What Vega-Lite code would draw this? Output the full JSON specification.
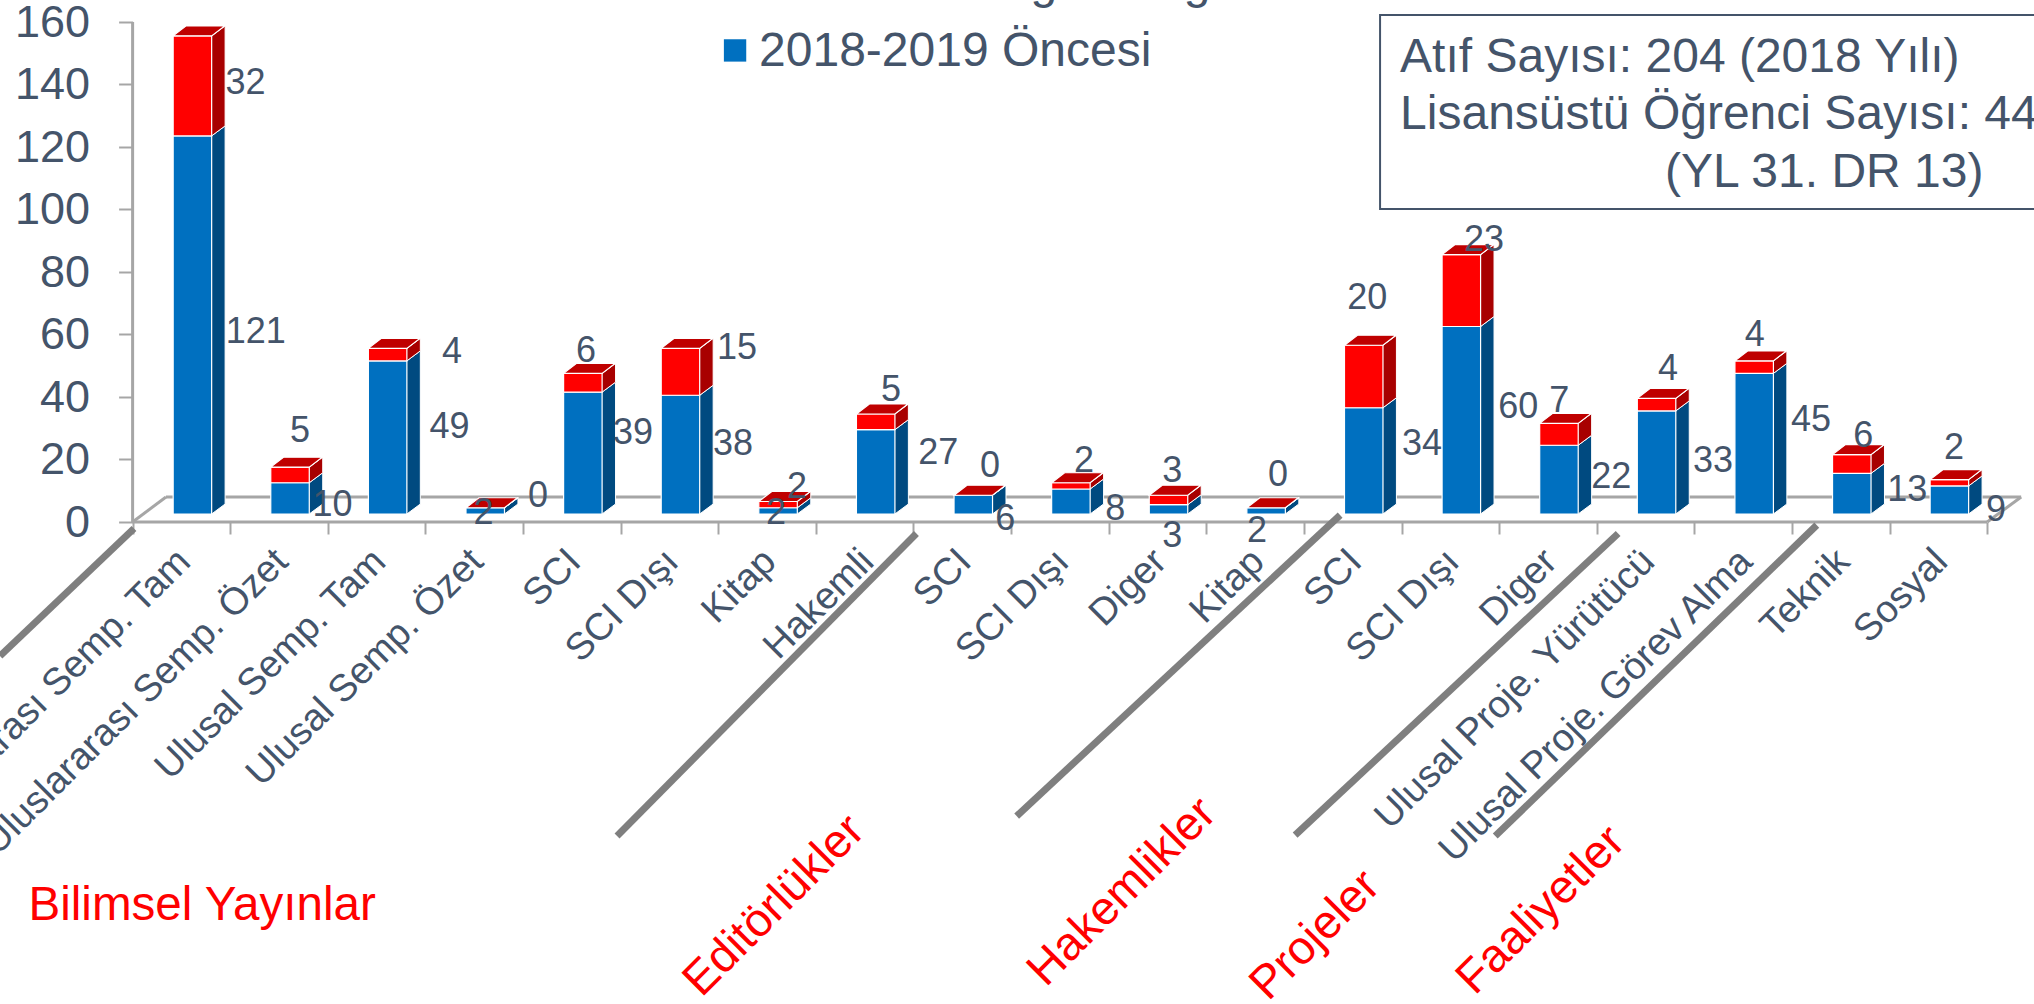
{
"$schema":"https://vega.github.io/schema/vega-lite/v6.json",
"width":2034,"height":1004,"padding":0,"autosize":{"type":"none"},"background":"white",
"config":{"view":{"stroke":null},"font":"Liberation Sans","text":{"font":"Liberation Sans"}},
"datasets":{
"corners":[{"key":"hi","edge":[0,1],"seq":[0,1]},{"key":"lo","edge":[1,0],"seq":[2,3]}],
"floor":[{"p":0.342,"v":8,"p2":19.348,"v2":8},{"p":0,"v":0,"p2":0.342,"v2":8},{"p":19,"v":0,"p2":19.348,"v2":8},{"p":0,"v":0,"p2":19,"v2":0},{"p":0,"v":0,"p2":0,"v2":160}],
"separators":[{"p":0.014,"v":-2.1,"p2":-1.359,"v2":-42.9},{"p":8.03,"v":-3.7,"p2":4.963,"v2":-100.5},{"p":12.371,"v":2.2,"p2":9.057,"v2":-94.1},{"p":15.219,"v":-3.7,"p2":11.91,"v2":-100.2},{"p":17.254,"v":-1,"p2":13.96,"v2":-100.5}],
"labels":[{"p":1.157,"v":140.4,"t":"32"},{"p":1.262,"v":60.8,"t":"121"},{"p":1.715,"v":29.1,"t":"5"},{"p":2.049,"v":5.4,"t":"10"},{"p":3.273,"v":54.4,"t":"4"},{"p":3.247,"v":30.4,"t":"49"},{"p":3.595,"v":3.0,"t":"2"},{"p":4.154,"v":8.2,"t":"0"},{"p":4.645,"v":54.7,"t":"6"},{"p":5.127,"v":28.5,"t":"39"},{"p":6.193,"v":55.8,"t":"15"},{"p":6.152,"v":25.1,"t":"38"},{"p":6.807,"v":11.2,"t":"2"},{"p":6.592,"v":2.8,"t":"2"},{"p":7.771,"v":42.2,"t":"5"},{"p":8.253,"v":22.2,"t":"27"},{"p":8.785,"v":18.0,"t":"0"},{"p":8.94,"v":1.1,"t":"6"},{"p":9.748,"v":19.4,"t":"2"},{"p":10.066,"v":4.2,"t":"8"},{"p":10.65,"v":16.3,"t":"3"},{"p":10.65,"v":-4.6,"t":"3"},{"p":11.735,"v":14.9,"t":"0"},{"p":11.52,"v":-2.9,"t":"2"},{"p":12.648,"v":71.8,"t":"20"},{"p":13.21,"v":25.0,"t":"34"},{"p":13.846,"v":90.2,"t":"23"},{"p":14.195,"v":36.8,"t":"60"},{"p":14.615,"v":38.7,"t":"7"},{"p":15.148,"v":14.4,"t":"22"},{"p":15.73,"v":49.0,"t":"4"},{"p":16.19,"v":19.4,"t":"33"},{"p":16.62,"v":60.0,"t":"4"},{"p":17.196,"v":32.8,"t":"45"},{"p":17.73,"v":27.4,"t":"6"},{"p":18.18,"v":10.1,"t":"13"},{"p":18.66,"v":23.8,"t":"2"},{"p":19.09,"v":3.8,"t":"9"}],
"notes":[{"p":12.985,"v":144.1,"t":"Atıf Sayısı: 204 (2018 Yılı)"},{"p":12.985,"v":125.8,"t":"Lisansüstü Öğrenci Sayısı: 44"},{"p":15.7,"v":107.2,"t":"(YL 31. DR 13)"},{"p":6.418,"v":146.0,"t":"2018-2019 Öncesi"},{"p":9.2,"v":167.6,"t":"g"},{"p":10.77,"v":167.6,"t":"g"}],
"groupsFlat":[{"p":-1.067,"v":-127.3,"t":"Bilimsel Yayınlar"}],
"groupsTilted":[{"p":6.573,"v":-122.8,"t":"Editörlükler"},{"p":10.137,"v":-118.4,"t":"Hakemlikler"},{"p":12.115,"v":-132.2,"t":"Projeler"},{"p":14.43,"v":-124.2,"t":"Faaliyetler"}],
"box":[{"p":12.78,"v":162.24,"p2":20.5,"v2":100.16}],
"legendKey":[{"p":6.172,"v":150.9}]
},
"data":{"values":[
{"pos":0,"cat":"Uluslararası Semp.  Tam","series":"Once","n":121},{"pos":0,"cat":"Uluslararası Semp.  Tam","series":"Sonra","n":32},
{"pos":1,"cat":"Uluslararası Semp.  Özet","series":"Once","n":10},{"pos":1,"cat":"Uluslararası Semp.  Özet","series":"Sonra","n":5},
{"pos":2,"cat":"Ulusal Semp.  Tam","series":"Once","n":49},{"pos":2,"cat":"Ulusal Semp.  Tam","series":"Sonra","n":4},
{"pos":3,"cat":"Ulusal Semp.  Özet","series":"Once","n":2},{"pos":3,"cat":"Ulusal Semp.  Özet","series":"Sonra","n":0},
{"pos":4,"cat":"SCI","series":"Once","n":39},{"pos":4,"cat":"SCI","series":"Sonra","n":6},
{"pos":5,"cat":"SCI Dışı","series":"Once","n":38},{"pos":5,"cat":"SCI Dışı","series":"Sonra","n":15},
{"pos":6,"cat":"Kitap","series":"Once","n":2},{"pos":6,"cat":"Kitap","series":"Sonra","n":2},
{"pos":7,"cat":"Hakemli","series":"Once","n":27},{"pos":7,"cat":"Hakemli","series":"Sonra","n":5},
{"pos":8,"cat":"SCI","series":"Once","n":6},{"pos":8,"cat":"SCI","series":"Sonra","n":0},
{"pos":9,"cat":"SCI Dışı","series":"Once","n":8},{"pos":9,"cat":"SCI Dışı","series":"Sonra","n":2},
{"pos":10,"cat":"Diger","series":"Once","n":3},{"pos":10,"cat":"Diger","series":"Sonra","n":3},
{"pos":11,"cat":"Kitap","series":"Once","n":2},{"pos":11,"cat":"Kitap","series":"Sonra","n":0},
{"pos":12,"cat":"SCI","series":"Once","n":34},{"pos":12,"cat":"SCI","series":"Sonra","n":20},
{"pos":13,"cat":"SCI Dışı","series":"Once","n":60},{"pos":13,"cat":"SCI Dışı","series":"Sonra","n":23},
{"pos":14,"cat":"Diger","series":"Once","n":22},{"pos":14,"cat":"Diger","series":"Sonra","n":7},
{"pos":15,"cat":"Ulusal Proje.  Yürütücü","series":"Once","n":33},{"pos":15,"cat":"Ulusal Proje.  Yürütücü","series":"Sonra","n":4},
{"pos":16,"cat":"Ulusal Proje.  Görev Alma","series":"Once","n":45},{"pos":16,"cat":"Ulusal Proje.  Görev Alma","series":"Sonra","n":4},
{"pos":17,"cat":"Teknik","series":"Once","n":13},{"pos":17,"cat":"Teknik","series":"Sonra","n":6},
{"pos":18,"cat":"Sosyal","series":"Once","n":9},{"pos":18,"cat":"Sosyal","series":"Sonra","n":2}
]},
"transform":[{"stack":"n","groupby":["pos"],"as":["lo","hi"]}],
"layer":[
{"data":{"name":"floor"},"mark":{"type":"rule","color":"#A6A6A6","strokeWidth":3},
 "encoding":{
  "x":{"field":"p","type":"quantitative","scale":{"domain":[-1.3586,19.4795],"padding":0},"axis":{"orient":"bottom","offset":-482,"values":[0,1,2,3,4,5,6,7,8,9,10,11,12,13,14,15,16,17,18,19],"labels":false,"domain":false,"grid":false,"title":null,"tickSize":12,"tickWidth":2,"tickColor":"#A6A6A6"}},
  "x2":{"field":"p2"},
  "y":{"field":"v","type":"quantitative","scale":{"domain":[-154.24,167.04]},"axis":{"orient":"left","offset":-132.6,"values":[0,20,40,60,80,100,120,140,160],"domain":false,"grid":false,"title":null,"tickSize":14,"tickWidth":2,"tickColor":"#A6A6A6","labelPadding":29,"labelFontSize":45,"labelFont":"Liberation Sans","labelColor":"#44546A"}},
  "y2":{"field":"v2"}}},
{"transform":[{"fold":["lo","hi"]},{"lookup":"key","from":{"data":{"name":"corners"},"key":"key","fields":["edge","seq"]}},{"flatten":["edge","seq"]},{"filter":"datum.series=='Once'"},{"calculate":"datum.pos+0.8094+0.1383*datum.edge","as":"sx"},{"calculate":"datum.value+2.56+3.2*datum.edge","as":"sy"}],
 "mark":{"type":"line","filled":true,"fill":"#004A80","stroke":"#FFFFFF","strokeWidth":1},
 "encoding":{"x":{"field":"sx","type":"quantitative","scale":{"domain":[-1.3586,19.4795],"padding":0}},"y":{"field":"sy","type":"quantitative","scale":{"domain":[-154.24,167.04]}},
  "detail":{"field":"pos"},"order":{"field":"seq"}}},
{"transform":[{"fold":["lo","hi"]},{"lookup":"key","from":{"data":{"name":"corners"},"key":"key","fields":["edge","seq"]}},{"flatten":["edge","seq"]},{"filter":"datum.series=='Sonra'"},{"calculate":"datum.pos+0.8094+0.1383*datum.edge","as":"sx"},{"calculate":"datum.value+2.56+3.2*datum.edge","as":"sy"}],
 "mark":{"type":"line","filled":true,"fill":"#A80000","stroke":"#FFFFFF","strokeWidth":1},
 "encoding":{"x":{"field":"sx","type":"quantitative","scale":{"domain":[-1.3586,19.4795],"padding":0}},"y":{"field":"sy","type":"quantitative","scale":{"domain":[-154.24,167.04]}},
  "detail":{"field":"pos"},"order":{"field":"seq"}}},
{"mark":{"type":"bar","width":38.5,"xOffset":59.8,"yOffset":-8,"y2Offset":-8,"stroke":"#FFFFFF","strokeWidth":1.2},
 "encoding":{"x":{"field":"pos","type":"quantitative","scale":{"domain":[-1.3586,19.4795],"padding":0}},"y":{"field":"lo","type":"quantitative","scale":{"domain":[-154.24,167.04]},"stack":null},"y2":{"field":"hi"},
  "fill":{"field":"series","type":"nominal","scale":{"domain":["Once","Sonra"],"range":["#0070C0","#FF0000"]},"legend":null}}},
{"transform":[{"filter":"datum.series=='Sonra'"}],
 "mark":{"type":"point","shape":"M-1,0.194L0.495,0.194L1,-0.194L-0.495,-0.194Z","filled":true,"fill":"#BF0000","stroke":"#FFFFFF","strokeWidth":1.2,"opacity":1,"size":2652,"xOffset":66.3,"yOffset":-13},
 "encoding":{"x":{"field":"pos","type":"quantitative","scale":{"domain":[-1.3586,19.4795],"padding":0}},"y":{"field":"hi","type":"quantitative","scale":{"domain":[-154.24,167.04]}}}},
{"transform":[{"filter":"datum.series=='Once'"}],
 "mark":{"type":"text","align":"right","baseline":"middle","angle":315,"fontSize":38,"color":"#44546A","xOffset":52,"yOffset":34},
 "encoding":{"x":{"field":"pos","type":"quantitative","scale":{"domain":[-1.3586,19.4795],"padding":0}},"y":{"datum":0,"type":"quantitative","scale":{"domain":[-154.24,167.04]}},"text":{"field":"cat"}}},
{"data":{"name":"separators"},"mark":{"type":"rule","color":"#7F7F7F","strokeWidth":7},
 "encoding":{"x":{"field":"p","type":"quantitative","scale":{"domain":[-1.3586,19.4795],"padding":0}},"x2":{"field":"p2"},"y":{"field":"v","type":"quantitative","scale":{"domain":[-154.24,167.04]}},"y2":{"field":"v2"}}},
{"data":{"name":"labels"},"mark":{"type":"text","align":"center","baseline":"middle","fontSize":36,"color":"#44546A"},
 "encoding":{"x":{"field":"p","type":"quantitative","scale":{"domain":[-1.3586,19.4795],"padding":0}},"y":{"field":"v","type":"quantitative","scale":{"domain":[-154.24,167.04]}},"text":{"field":"t"}}},
{"data":{"name":"box"},"mark":{"type":"rect","fill":"#FFFFFF","stroke":"#44546A","strokeWidth":2},
 "encoding":{"x":{"field":"p","type":"quantitative","scale":{"domain":[-1.3586,19.4795],"padding":0}},"x2":{"field":"p2"},"y":{"field":"v","type":"quantitative","scale":{"domain":[-154.24,167.04]}},"y2":{"field":"v2"}}},
{"data":{"name":"legendKey"},"mark":{"type":"point","shape":"square","filled":true,"fill":"#0070C0","opacity":1,"size":500},
 "encoding":{"x":{"field":"p","type":"quantitative","scale":{"domain":[-1.3586,19.4795],"padding":0}},"y":{"field":"v","type":"quantitative","scale":{"domain":[-154.24,167.04]}}}},
{"data":{"name":"notes"},"mark":{"type":"text","align":"left","baseline":"alphabetic","fontSize":48,"color":"#44546A"},
 "encoding":{"x":{"field":"p","type":"quantitative","scale":{"domain":[-1.3586,19.4795],"padding":0}},"y":{"field":"v","type":"quantitative","scale":{"domain":[-154.24,167.04]}},"text":{"field":"t"}}},
{"data":{"name":"groupsFlat"},"mark":{"type":"text","align":"left","baseline":"alphabetic","fontSize":47.6,"color":"#FF0000"},
 "encoding":{"x":{"field":"p","type":"quantitative","scale":{"domain":[-1.3586,19.4795],"padding":0}},"y":{"field":"v","type":"quantitative","scale":{"domain":[-154.24,167.04]}},"text":{"field":"t"}}},
{"data":{"name":"groupsTilted"},"mark":{"type":"text","align":"center","baseline":"middle","angle":315,"fontSize":46.7,"color":"#FF0000"},
 "encoding":{"x":{"field":"p","type":"quantitative","scale":{"domain":[-1.3586,19.4795],"padding":0}},"y":{"field":"v","type":"quantitative","scale":{"domain":[-154.24,167.04]}},"text":{"field":"t"}}}
]
}
